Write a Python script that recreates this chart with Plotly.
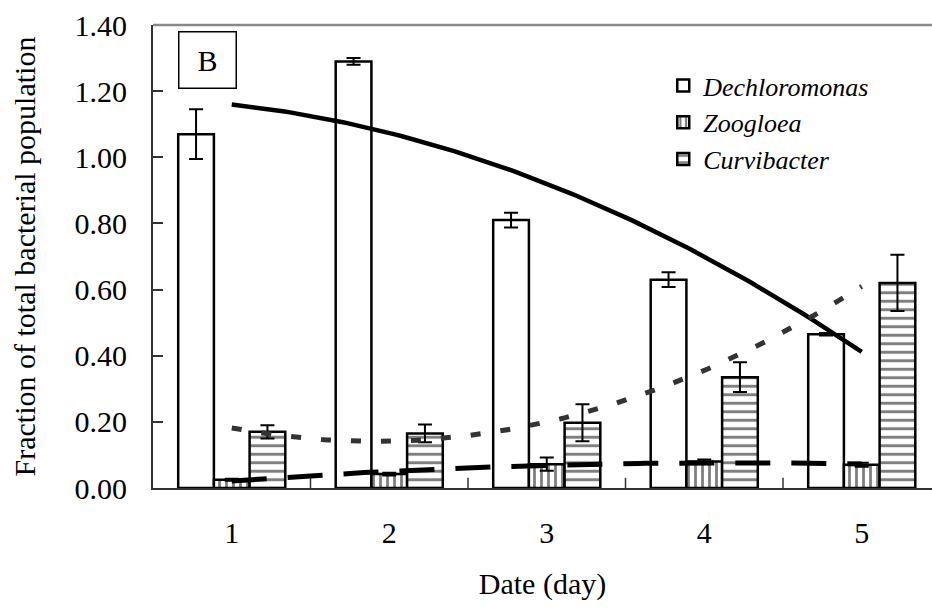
import numpy as np
import plotly.graph_objects as go

days = [1, 2, 3, 4, 5]
tick_labels = ["1", "2", "3", "4", "5"]
dechloromonas = [1.07, 1.29, 0.81, 0.63, 0.465]
dechloromonas_err = [0.075, 0.01, 0.022, 0.022, 0.004]
zoogloea = [0.025, 0.042, 0.072, 0.08, 0.07]
zoogloea_err = [0.003, 0.004, 0.02, 0.006, 0.006]
curvibacter = [0.17, 0.165, 0.197, 0.335, 0.62]
curvibacter_err = [0.02, 0.027, 0.056, 0.045, 0.085]

FONT = "Liberation Serif"

fig = go.Figure()

bar_line = dict(color="black", width=2.5)
err_style = dict(type="data", visible=True, color="black", thickness=2, width=7)

fig.add_trace(go.Bar(
    x=days, y=dechloromonas, name="<i>Dechloromonas</i>", legendgroup="a",
    marker=dict(color="white", line=bar_line),
    error_y=dict(array=dechloromonas_err, **err_style),
))
fig.add_trace(go.Bar(
    x=days, y=zoogloea, name="<i>Zoogloea</i>", legendgroup="b",
    marker=dict(color="white", line=bar_line,
                pattern=dict(shape="|", fgcolor="black", bgcolor="white", size=7, solidity=0.4)),
    error_y=dict(array=zoogloea_err, **err_style),
))
fig.add_trace(go.Bar(
    x=days, y=curvibacter, name="<i>Curvibacter</i>", legendgroup="c",
    marker=dict(color="white", line=bar_line,
                pattern=dict(shape="-", fgcolor="black", bgcolor="white", size=8.5, solidity=0.35)),
    error_y=dict(array=curvibacter_err, **err_style),
))

# second-order polynomial trend lines fitted to each series
t = np.linspace(1, 5, 120)
def trend(vals):
    c = np.polyfit(days, vals, 2)
    return np.polyval(c, t)

fig.add_trace(go.Scatter(x=t, y=trend(dechloromonas), mode="lines", showlegend=False,
                         line=dict(color="black", width=4.5), hoverinfo="skip"))
fig.add_trace(go.Scatter(x=t, y=trend(zoogloea), mode="lines", showlegend=False,
                         line=dict(color="black", width=5, dash="35px,21px"), hoverinfo="skip"))
fig.add_trace(go.Scatter(x=t, y=trend(curvibacter), mode="lines", showlegend=False,
                         line=dict(color="#333333", width=5, dash="10px,20px"), hoverinfo="skip"))

fig.update_layout(
    width=932, height=609,
    margin=dict(l=153, r=0, t=25, b=121),
    paper_bgcolor="white", plot_bgcolor="white",
    barmode="group", bargap=0.32, bargroupgap=0,
    font=dict(family=FONT, size=30, color="black"),
    showlegend=True,
    legend=dict(x=0.655, y=0.92, xanchor="left", yanchor="top",
                font=dict(family=FONT, size=26, color="black"),
                bgcolor="rgba(0,0,0,0)", tracegroupgap=9, itemwidth=30,
                traceorder="normal"),
    xaxis=dict(range=[0.5, 5.446], tickmode="array", tickvals=days, ticktext=tick_labels,
               ticks="", showline=True, linecolor="#333333", linewidth=2,
               tickfont=dict(family=FONT, size=30),
               showgrid=False, zeroline=False, ticklabelstandoff=17,
               title=dict(text="Date (day)", standoff=25, font=dict(family=FONT, size=30))),
    yaxis=dict(range=[0, 1.40], tickvals=[0, 0.2, 0.4, 0.6, 0.8, 1.0, 1.2, 1.4],
               tickformat=".2f", ticks="inside", ticklen=10, tickcolor="#333333", tickwidth=1.5,
               tickfont=dict(family=FONT, size=30),
               showline=True, linecolor="#333333", linewidth=2,
               showgrid=False, zeroline=False, ticklabelstandoff=18,
               title=dict(text="Fraction of total bacterial population", standoff=30,
                          font=dict(family=FONT, size=30))),
)

# category separator ticks on the x axis (between days)
for b in [1.5, 2.5, 3.5, 4.5]:
    fig.add_shape(type="line", xref="x", yref="paper", x0=b, x1=b, y0=0, y1=0.022,
                  line=dict(color="#333333", width=1.5))

# top border line
fig.add_shape(type="line", xref="paper", yref="paper", x0=0, x1=1, y0=1, y1=1,
              line=dict(color="#888888", width=2.5))

# panel label
fig.add_annotation(text="B", xref="paper", yref="paper", x=0.07, y=0.924,
                   showarrow=False, font=dict(family=FONT, size=30, color="black"),
                   bordercolor="black", borderwidth=1.5, width=54, height=53,
                   bgcolor="white", xanchor="center", yanchor="middle")

fig.write_html("out.html")
